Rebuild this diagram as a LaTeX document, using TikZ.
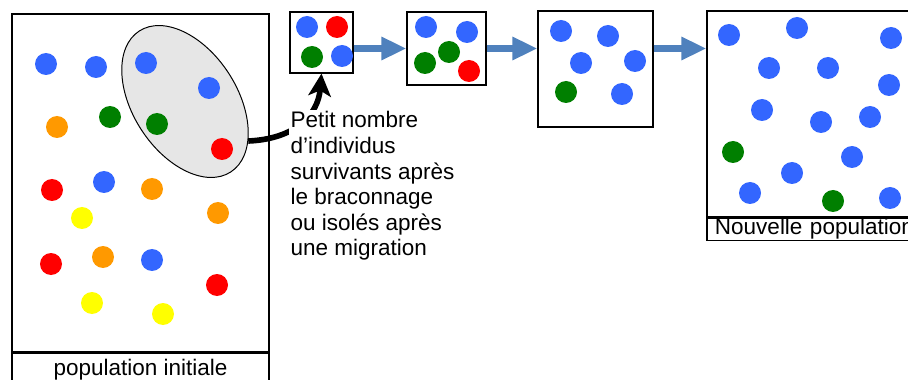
\documentclass[tikz,border=0pt]{standalone}
\usepackage{fontspec}
\setmainfont{Liberation Sans}
\usetikzlibrary{arrows.meta,shapes.geometric}

\definecolor{popblue}{HTML}{3366FF}
\definecolor{popred}{HTML}{FF0000}
\definecolor{popgreen}{HTML}{007F00}
\definecolor{poporange}{HTML}{FF9900}
\definecolor{popyellow}{HTML}{FFFF00}
\definecolor{flowblue}{HTML}{4F81BD}
\definecolor{groupgray}{HTML}{E6E6E6}

\begin{document}
\begin{tikzpicture}[x=0.025cm, y=-0.025cm,
    box/.style={draw, line width=0.8pt, inner sep=0pt},
    flow/.style={flowblue, line width=5pt, -{Triangle[length=17.8pt, width=15.6pt]}},
    txt/.style={font=\fontsize{16}{18.2}\selectfont}]

    \useasboundingbox (0,0) rectangle (908,380);

    % --- Population boxes ---
    % initial population with its caption underneath
    \node[box, minimum width=6.425cm, minimum height=8.45cm] (pop0) at (140.5,183) {};
    \node[box, txt, anchor=north, minimum width=6.425cm, minimum height=0.825cm] (lab0) at (pop0.south) {population initiale};
    % the three following generations
    \node[box, minimum width=1.575cm, minimum height=1.525cm] (gen1) at (321.5,42.5) {};
    \node[box, minimum width=1.975cm, minimum height=1.825cm] (gen2) at (446.5,48.5) {};
    \node[box, minimum width=2.875cm, minimum height=2.9cm] (gen3) at (595.5,69) {};
    % new population, cut by the right margin
    \node[box, minimum width=5.325cm, minimum height=5.15cm] (pop4) at (813.5,114) {};
    \node[box, txt, anchor=north west, minimum height=0.55cm, text width=5.0cm, inner xsep=0.2cm, align=left] (lab4) at (pop4.south west) {Nouvelle population};

    % --- Surviving group ---
    \node[draw, ellipse, fill=groupgray, line width=0.7pt, inner sep=0pt,
          minimum width=4.2cm, minimum height=2.6cm, rotate=-57] (grp) at (185,101.5) {};

    % --- Individuals ---
    % initial population
    \foreach \x/\y in {46/64, 96/67, 146/63, 209/88, 104/182, 152/260}
        \fill[popblue] (\x,\y) circle (11);
    \foreach \x/\y in {57/127, 152/189, 218/213, 103/257}
        \fill[poporange] (\x,\y) circle (11);
    \foreach \x/\y in {110/117, 157/124}
        \fill[popgreen] (\x,\y) circle (11);
    \foreach \x/\y in {222/149, 52/190, 51/264, 217/285}
        \fill[popred] (\x,\y) circle (11);
    \foreach \x/\y in {82/218, 92/303, 163/314}
        \fill[popyellow] (\x,\y) circle (11);

    % first, second and third generation
    \foreach \x/\y in {307/27, 342/56, 426/27, 467/32, 561/31, 608/36, 581/63, 635/61, 622/94}
        \fill[popblue] (\x,\y) circle (11);
    \foreach \x/\y in {312/57, 449/52, 425/63, 566/92}
        \fill[popgreen] (\x,\y) circle (11);
    \foreach \x/\y in {337/27, 469/71}
        \fill[popred] (\x,\y) circle (11);

    % new population
    \foreach \x/\y in {729/35, 797/28, 891/38, 769/68, 828/68, 889/85, 762/110,
                       821/122, 870/117, 852/157, 792/173, 750/193, 890/198}
        \fill[popblue] (\x,\y) circle (11);
    \foreach \x/\y in {733/152, 833/201}
        \fill[popgreen] (\x,\y) circle (11);

    % --- Arrows between generations ---
    \draw[flow] (gen1.east |- gen2.west) -- (gen2.west);
    \draw[flow] (gen2.east) -- (gen3.west |- gen2.east);
    \draw[flow] (gen3.east |- gen2.east) -- (pop4.west |- gen2.east);

    % --- From the group to the first generation ---
    \draw[line width=4pt, -{Stealth[length=16pt, width=16pt, inset=4pt]}]
        (grp.25) .. controls (295,139) and (318,115) .. (gen1.south);

    % --- Explanation ---
    \node[txt, anchor=north west, fill=white, inner sep=1pt, align=left] (note) at (289,110)
        {Petit nombre\\d’individus\\survivants après\\le braconnage\\ou isolés après\\une migration};

\end{tikzpicture}
\end{document}
